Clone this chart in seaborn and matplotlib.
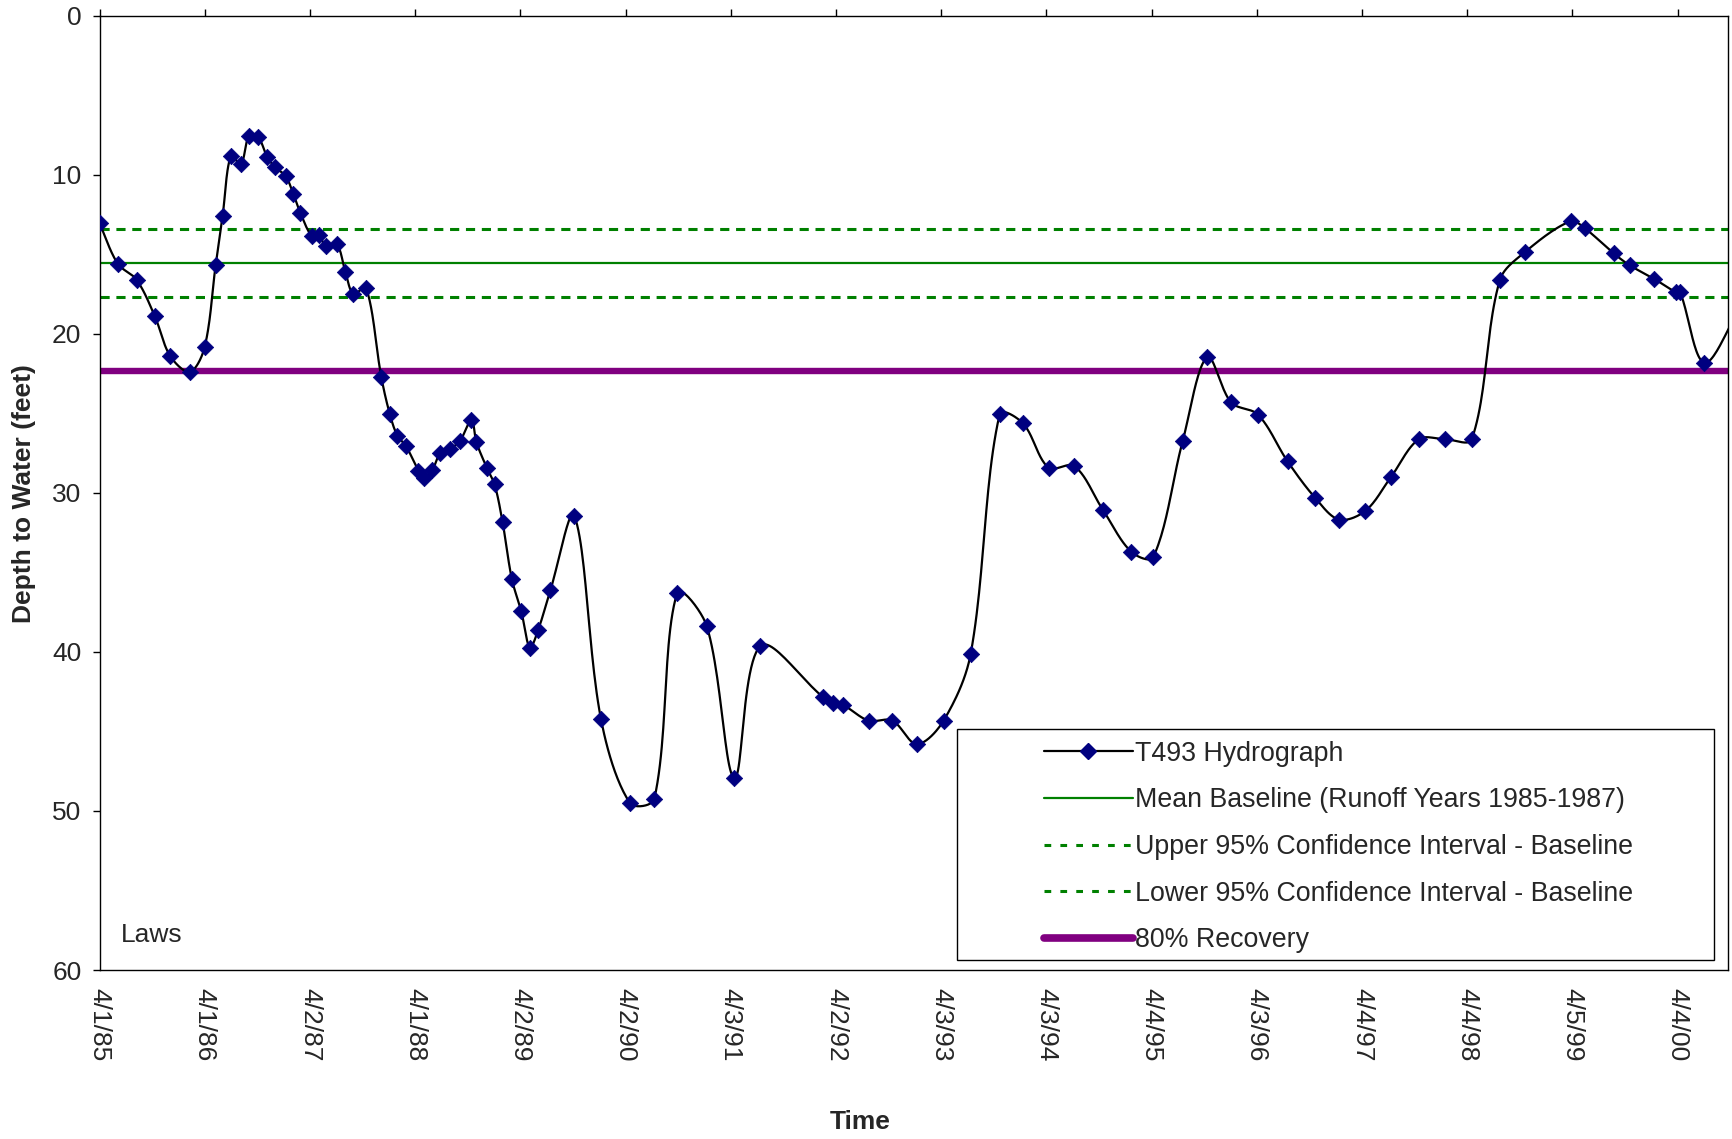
import numpy as np
import pandas as pd
import matplotlib
matplotlib.use("Agg")
import matplotlib.pyplot as plt
from matplotlib.lines import Line2D
from matplotlib.patches import Rectangle
import seaborn as sns

# ---------------- data ----------------
# x: years after 4/1/85 (one axis unit = one major tick interval)
years_after_apr85 = [
    0.000, 0.174, 0.352, 0.526, 0.672, 0.859, 0.999, 1.104, 1.170, 1.249,
    1.344, 1.421, 1.509, 1.595, 1.665, 1.770, 1.842, 1.909, 2.017, 2.087,
    2.150, 2.255, 2.337, 2.413, 2.534, 2.678, 2.759, 2.832, 2.911, 3.032,
    3.089, 3.165, 3.238, 3.333, 3.428, 3.536, 3.583, 3.682, 3.755, 3.831,
    3.920, 4.009, 4.091, 4.170, 4.287, 4.513, 4.767, 5.043, 5.274, 5.490,
    5.772, 6.035, 6.283, 6.873, 6.971, 7.066, 7.310, 7.536, 7.770, 8.024,
    8.281, 8.556, 8.778, 9.021, 9.267, 9.537, 9.808, 10.017, 10.297, 10.530,
    10.757, 11.013, 11.294, 11.555, 11.782, 12.034, 12.276, 12.541, 12.789, 13.045,
    13.310, 13.553, 13.984, 14.117, 14.392, 14.544, 14.781, 14.981, 15.024, 15.256,
    15.600,
]
depth_to_water = [
    13.05, 15.6, 16.6, 18.9, 21.4, 22.4, 20.85, 15.7, 12.6, 8.8,
    9.35, 7.57, 7.65, 8.9, 9.5, 10.1, 11.2, 12.4, 13.85, 13.8,
    14.5, 14.35, 16.1, 17.5, 17.1, 22.7, 25.04, 26.42, 27.03, 28.6,
    29.08, 28.56, 27.51, 27.24, 26.72, 25.42, 26.82, 28.43, 29.46, 31.83,
    35.43, 37.44, 39.73, 38.62, 36.1, 31.43, 44.23, 49.51, 49.24, 36.31,
    38.37, 47.94, 39.62, 42.81, 43.22, 43.33, 44.32, 44.32, 45.8, 44.32,
    40.13, 25.07, 25.63, 28.42, 28.32, 31.06, 33.71, 34.04, 26.73, 21.46,
    24.32, 25.09, 28.03, 30.31, 31.68, 31.13, 29.01, 26.63, 26.63, 26.63,
    16.65, 14.85, 12.92, 13.36, 14.94, 15.69, 16.56, 17.37, 17.37, 21.82,
    18.3,
]
mean_baseline = 15.57
upper_ci = 13.43
lower_ci = 17.69
recovery_80 = 22.34

tick_labels = ["4/1/85", "4/1/86", "4/2/87", "4/1/88", "4/2/89", "4/2/90",
               "4/3/91", "4/2/92", "4/3/93", "4/3/94", "4/4/95", "4/3/96",
               "4/4/97", "4/4/98", "4/5/99", "4/4/00"]
y_ticks = [0, 10, 20, 30, 40, 50, 60]
legend_labels = ["T493 Hydrograph",
                 "Mean Baseline (Runoff Years 1985-1987)",
                 "Upper 95% Confidence Interval - Baseline",
                 "Lower 95% Confidence Interval - Baseline",
                 "80% Recovery"]

df = pd.DataFrame({"t": years_after_apr85, "depth": depth_to_water})


def smooth_curve(x, y, sx=105.1, sy=15.91, n=24):
    """Smoothed line drawn through the points (Bezier, tangents scaled by chord length)."""
    P = np.column_stack([np.asarray(x, float) * sx, np.asarray(y, float) * sy])
    m = len(P)
    d = np.linalg.norm(np.diff(P, axis=0), axis=1)
    T = np.zeros_like(P)
    for i in range(m):
        a = P[max(i - 1, 0)]
        b = P[min(i + 1, m - 1)]
        da = d[i - 1] if i > 0 else 0.0
        db = d[i] if i < m - 1 else 0.0
        tot = da + db
        T[i] = (b - a) / tot if tot > 0 else 0.0
    out = []
    s = np.linspace(0, 1, n, endpoint=False)[:, None]
    for i in range(m - 1):
        p1, p2 = P[i], P[i + 1]
        c1 = p1 + T[i] * d[i] / 3.0
        c2 = p2 - T[i + 1] * d[i] / 3.0
        b = ((1 - s) ** 3) * p1 + 3 * ((1 - s) ** 2) * s * c1 + 3 * (1 - s) * s ** 2 * c2 + s ** 3 * p2
        out.append(b)
    out.append(P[-1][None, :])
    out = np.vstack(out)
    return out[:, 0] / sx, out[:, 1] / sy


# ---------------- style ----------------
sns.set_theme(style="white")
plt.rcParams["font.family"] = ["Liberation Sans", "DejaVu Sans"]

fig = plt.figure(figsize=(17.32, 11.39), dpi=100)
ax = fig.add_axes([99.5 / 1732, 1 - 970 / 1139, (1728 - 99.5) / 1732, (970 - 15.6) / 1139])

GREEN = "#008000"
PURPLE = "#800080"
NAVY = "#000080"
DASH = (0, (3, 2.2))

# reference lines
ax.axhline(upper_ci, color=GREEN, lw=2.2, ls=DASH, zorder=2)
ax.axhline(mean_baseline, color=GREEN, lw=1.6, zorder=2)
ax.axhline(lower_ci, color=GREEN, lw=2.2, ls=DASH, zorder=2)
ax.axhline(recovery_80, color=PURPLE, lw=4.6, solid_capstyle="round", zorder=2)

# hydrograph
cx, cy = smooth_curve(df["t"], df["depth"])
sns.lineplot(x=cx, y=cy, sort=False, estimator=None, color="black", lw=1.6, ax=ax, zorder=3)
sns.scatterplot(data=df, x="t", y="depth", marker="D", s=70, color=NAVY,
                edgecolor=NAVY, linewidth=0.5, ax=ax, zorder=4)

ax.set_xlim(0, 15.48)
ax.set_ylim(60, 0)
ax.set_xticks(np.arange(len(tick_labels)))
ax.set_xticklabels(tick_labels, rotation=-90, ha="center", va="top")
ax.set_yticks(y_ticks)
ax.set_xlabel("")
ax.set_ylabel("")

ax.tick_params(axis="x", which="major", top=True, bottom=False, labeltop=False,
               labelbottom=True, direction="out", length=5, width=1,
               color="black", labelsize=19, pad=8.0)
ax.tick_params(axis="y", which="major", left=True, right=False, direction="out",
               length=5, width=1, color="black", labelsize=19, pad=8)
for sp in ax.spines.values():
    sp.set_color("black")
    sp.set_linewidth(1.0)

# text
ax.text(0.205, 57.8, "Laws", fontsize=19, ha="left", va="center")
fig.text(24 / 1732, 1 - 494 / 1139, "Depth to Water (feet)", rotation=90,
         fontsize=19, fontweight="bold", ha="center", va="center")
fig.text(860 / 1732, 1 - 1122 / 1139, "Time", fontsize=19, fontweight="bold",
         ha="center", va="center")

# legend box
x0, y0, x1, y1 = 956.6, 729.0, 1714.3, 960.0
fig.patches.append(Rectangle((x0 / 1732, 1 - y1 / 1139), (x1 - x0) / 1732, (y1 - y0) / 1139,
                             transform=fig.transFigure, fill=True, facecolor="white",
                             edgecolor="black", lw=1.0, zorder=5))
handles = [
    Line2D([], [], color="black", lw=1.6, marker="D", markersize=8.5,
           markerfacecolor=NAVY, markeredgecolor=NAVY),
    Line2D([], [], color=GREEN, lw=1.6),
    Line2D([], [], color=GREEN, lw=2.2, ls=(0, (2.2, 3.0))),
    Line2D([], [], color=GREEN, lw=2.2, ls=(0, (2.2, 3.0))),
    Line2D([], [], color=PURPLE, lw=5.5, solid_capstyle="round"),
]
leg = fig.legend(handles, legend_labels, loc="center",
                 bbox_to_anchor=(((x0 + x1) / 2 + 3) / 1732, 1 - ((y0 + y1) / 2 + 2.5) / 1139),
                 frameon=False, fontsize=19.3, handlelength=3.3, handletextpad=0.08,
                 labelspacing=0.77, borderpad=0)
leg.set_zorder(6)

fig.savefig("out.png", dpi=100)
